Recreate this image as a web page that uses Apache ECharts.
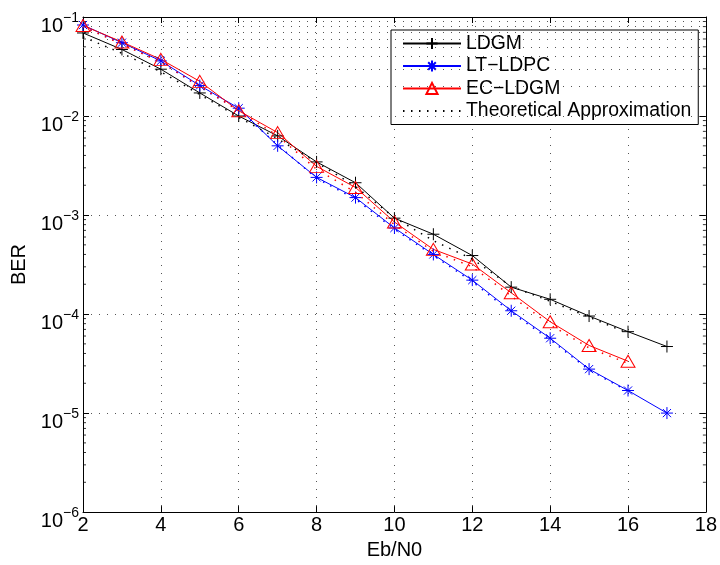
<!DOCTYPE html>
<html><head><meta charset="utf-8">
<script src="https://cdn.jsdelivr.net/npm/echarts@6/dist/echarts.min.js"></script>
<style>html,body{margin:0;padding:0;background:#fff}#c{width:720px;height:565px}</style>
</head><body><div id="c"></div>
<script>
// Eb/N0 values
const ebn0 = [2,3,4,5,6,7,8,9,10,11,12,13,14,15,16,17];
// measured BER curves
const ldgm   = [0.069,0.047,0.0297,0.0171,0.0100,0.0063,0.00344,0.00212,0.00093,0.00064,0.00039,0.000187,0.000141,0.0000955,0.0000664,0.0000470];
const ltldpc = [0.083,0.055,0.036,0.0203,0.0120,0.0050,0.0024,0.0015,0.00074,0.00040,0.00022,0.000108,0.0000570,0.0000278,0.0000169,0.0000100];
const ecldgm = [0.082,0.056,0.0373,0.0224,0.0113,0.0068,0.0031,0.0019,0.00085,0.00045,0.00032,0.000164,0.0000836,0.0000482,0.0000334];
// theoretical approximations (dotted, one per scheme)
const theoLdgm   = [0.063,0.043,0.028,0.0165,0.0097,0.0059,0.0034,0.00195,0.00094,0.00055,0.00036,0.00019,0.000135,0.000093,0.000064];
const theoLtldpc = [0.080,0.054,0.0352,0.0196,0.0115,0.0051,0.00235,0.00145,0.00072,0.00039,0.000212,0.000104,0.000055,0.0000272,0.0000166];
const theoEcldgm = [0.080,0.053,0.0350,0.0200,0.0113,0.0063,0.0029,0.0017,0.00080,0.00043,0.00030,0.000152,0.0000780,0.0000455,0.0000318];
// axes
const xMin = 2, xMax = 18, xStep = 2;
const yDecades = [1e-6,1e-5,1e-4,1e-3,1e-2];
const yMinorMult = [2,3,4,5,6,7,8,9];
const legendNames = ['LDGM','LT\u2212LDPC','EC\u2212LDGM','Theoretical Approximation'];

const minorVals = [];
yDecades.forEach(d => yMinorMult.forEach(m => minorVals.push(d*m)));
const pair = (xs, ys) => ys.map((y,i)=>[xs[i], y]);

const FONT = '"Liberation Sans", Arial, Helvetica, sans-serif';
const gridDot = {type:[1,7], color:'#555', width:1};
const plusPath = 'path://M5,0L5,10M0,5L10,5';
const starPath = 'path://M5,0L5,10M0,5L10,5M1.6,1.6L8.4,8.4M8.4,1.6L1.6,8.4';

const chart = echarts.init(document.getElementById('c'), null, {renderer:'canvas'});
chart.setOption({
  animation:false,
  backgroundColor:'#fff',
  grid:{left:83, right:13, top:17, bottom:46, containLabel:false},
  textStyle:{fontFamily:FONT},
  legend:{
    orient:'vertical', left:391, top:30,
    padding:[4,7,4,11], itemGap:3.5,
    itemWidth:58, itemHeight:14,
    borderColor:'#000', borderWidth:1, backgroundColor:'#fff',
    textStyle:{fontFamily:FONT, fontSize:19.4, color:'#000'},
    data:legendNames, selectedMode:false
  },
  xAxis:[{
    type:'value', min:xMin, max:xMax, interval:xStep,
    name:'Eb/N0', nameLocation:'middle', nameGap:21,
    nameTextStyle:{fontFamily:FONT, fontSize:20, color:'#000'},
    axisLine:{lineStyle:{color:'#000', width:1}},
    axisTick:{inside:true, length:6, lineStyle:{color:'#000'}},
    axisLabel:{fontFamily:FONT, fontSize:20, color:'#000', margin:3},
    splitLine:{show:true, lineStyle:gridDot}
  },{
    type:'value', min:xMin, max:xMax, interval:xStep, position:'top',
    axisLine:{lineStyle:{color:'#000', width:1}},
    axisTick:{inside:true, length:6, lineStyle:{color:'#000'}},
    axisLabel:{show:false}, splitLine:{show:false}
  }],
  yAxis:[{
    type:'log', logBase:10, min:1e-6, max:1e-1,
    name:'BER', nameLocation:'middle', nameGap:54,
    nameTextStyle:{fontFamily:FONT, fontSize:20, color:'#000'},
    axisLine:{lineStyle:{color:'#000', width:1}},
    axisTick:{inside:true, length:6, lineStyle:{color:'#000'}},
    axisLabel:{margin:4, color:'#000', padding:[10,0,0,0],
      formatter:function(v){
        const e = Math.round(Math.log10(v));
        return '{b|10}{s|' + (e<0?'\u2212':'') + Math.abs(e) + '}';
      },
      rich:{
        b:{fontFamily:FONT, fontSize:20, color:'#000', padding:[8,0,0,0]},
        s:{fontFamily:FONT, fontSize:14, color:'#000', padding:[0,0,8,0]}
      }
    },
    splitLine:{show:true, lineStyle:gridDot}
  },{
    type:'log', logBase:10, min:1e-6, max:1e-1, position:'right',
    axisLine:{lineStyle:{color:'#000', width:1}},
    axisTick:{inside:true, length:6, lineStyle:{color:'#000'}},
    axisLabel:{show:false}, splitLine:{show:false}
  }],
  series:[
    { name:'minorLeft', type:'scatter', silent:true, clip:false, z:1,
      data:minorVals.map(v=>[xMin, v]), symbol:'rect', symbolSize:[3,1], symbolOffset:[1.5,0],
      itemStyle:{color:'#000'},
      markLine:{silent:true, symbol:['none','none'], label:{show:false},
        lineStyle:gridDot, data:minorVals.map(v=>({yAxis:v}))}
    },
    { name:'minorRight', type:'scatter', silent:true, clip:false, z:1,
      data:minorVals.map(v=>[xMax, v]), symbol:'rect', symbolSize:[3,1], symbolOffset:[-1.5,0],
      itemStyle:{color:'#000'} },
    { name:legendNames[0], type:'line', data:pair(ebn0, ldgm), z:3,
      symbol:plusPath, symbolSize:12,
      lineStyle:{color:'#000', width:1},
      itemStyle:{color:'#000', borderColor:'#000', borderWidth:1} },
    { name:legendNames[1], type:'line', data:pair(ebn0, ltldpc), z:3,
      symbol:starPath, symbolSize:12,
      lineStyle:{color:'#0000ff', width:1},
      itemStyle:{color:'#0000ff', borderColor:'#0000ff', borderWidth:1} },
    { name:legendNames[2], type:'line', data:pair(ebn0, ecldgm), z:3,
      symbol:'triangle', symbolSize:[14,12],
      lineStyle:{color:'#ff0000', width:1},
      itemStyle:{color:'none', borderColor:'#ff0000', borderWidth:1} },
    { name:legendNames[3], type:'line', data:pair(ebn0, theoLdgm), z:4,
      symbol:'none', lineStyle:{color:'#000', width:1.5, type:[1.5,6.5]},
      itemStyle:{color:'transparent', borderColor:'transparent', borderWidth:0} },
    { name:'theoLT', type:'line', data:pair(ebn0, theoLtldpc), z:4,
      symbol:'none', lineStyle:{color:'#0000ff', width:1.5, type:[1.5,6.5]},
      itemStyle:{color:'#0000ff'} },
    { name:'theoEC', type:'line', data:pair(ebn0, theoEcldgm), z:4,
      symbol:'none', lineStyle:{color:'#ff0000', width:1.5, type:[1.5,6.5]},
      itemStyle:{color:'#ff0000'} }
  ]
});
</script></body></html>
